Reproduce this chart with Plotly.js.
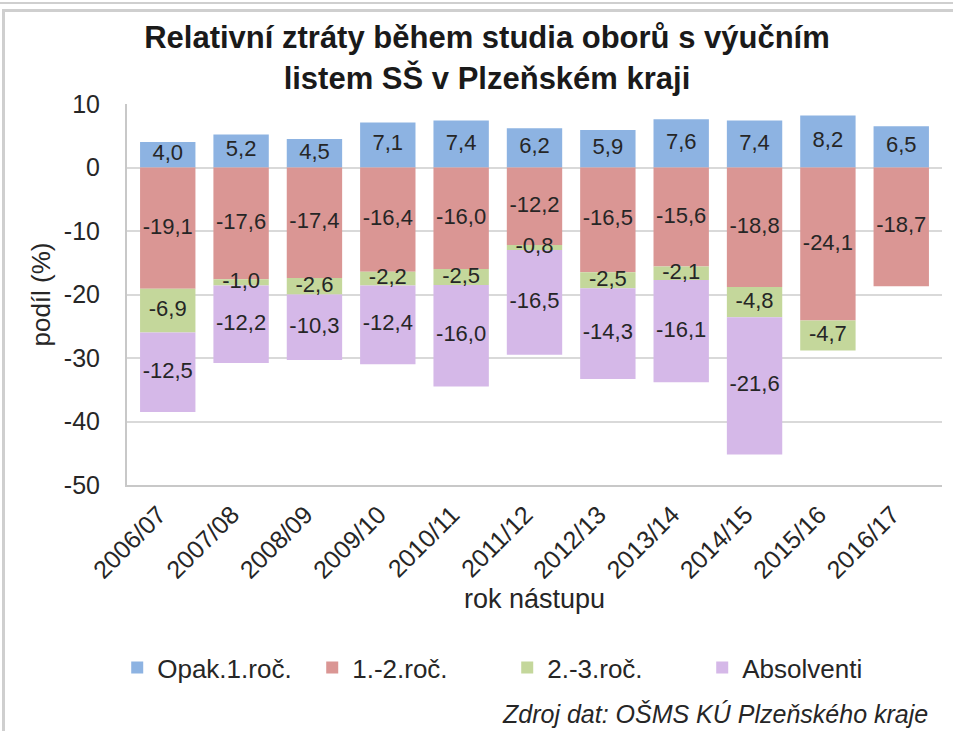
<!DOCTYPE html>
<html>
<head>
<meta charset="utf-8">
<script src="https://cdn.plot.ly/plotly-3.0.1.min.js"></script>
<style>
html,body{margin:0;padding:0;background:#fff;overflow:hidden;}
#chart{position:absolute;left:0;top:0;width:953px;height:731px;}
#frame{position:absolute;left:2px;top:9px;width:980px;height:760px;border:3px solid #cfcfcf;pointer-events:none;}
#topline{position:absolute;left:0;top:0;width:953px;height:2px;border-bottom:2px solid #cfcfcf;pointer-events:none;}
</style>
</head>
<body>
<div id="chart"></div>
<div id="frame"></div>
<div id="topline"></div>
<script>
const years = ["2006/07","2007/08","2008/09","2009/10","2010/11","2011/12","2012/13","2013/14","2014/15","2015/16","2016/17"];
const opak1 = [4.0, 5.2, 4.5, 7.1, 7.4, 6.2, 5.9, 7.6, 7.4, 8.2, 6.5];
const roc12 = [-19.1, -17.6, -17.4, -16.4, -16.0, -12.2, -16.5, -15.6, -18.8, -24.1, -18.7];
const roc23 = [-6.9, -1.0, -2.6, -2.2, -2.5, -0.8, -2.5, -2.1, -4.8, -4.7, null];
const absolventi = [-12.5, -12.2, -10.3, -12.4, -16.0, -16.5, -14.3, -16.1, -21.6, null, null];
const seriesNames = ["Opak.1.roč.", "1.-2.roč.", "2.-3.roč.", "Absolventi"];
const seriesColors = ["#8db3e2", "#da9694", "#c4d79b", "#d5b8e8"];
const yTickVals = [10, 0, -10, -20, -30, -40, -50];
const yTickText = ["10", "0", "-10", "-20", "-30", "-40", "-50"];

function fmt(v){ return v.toFixed(1).replace(".", ","); }

const allSeries = [opak1, roc12, roc23, absolventi];
const traces = allSeries.map((vals, i) => ({
  type: "bar",
  name: seriesNames[i],
  x: years,
  y: vals,
  marker: {color: seriesColors[i], line: {width: 0}},
  hoverinfo: "x+y+name"
}));

// data labels placed at the middle of each stacked segment (computed from the data)
const lblX = [], lblY = [], lblT = [];
years.forEach((yr, j) => {
  let posBase = 0, negBase = 0;
  allSeries.forEach(vals => {
    const v = vals[j];
    if (v === null || v === undefined) return;
    if (v >= 0) { lblX.push(yr); lblY.push(posBase + v / 2); posBase += v; }
    else { lblX.push(yr); lblY.push(negBase + v / 2); negBase += v; }
    lblT.push(fmt(v));
  });
});
traces.push({
  type: "scatter",
  mode: "text",
  x: lblX, y: lblY, text: lblT,
  textposition: "middle center",
  textfont: {family: "Liberation Sans, Arial, sans-serif", size: 22, color: "#262626"},
  showlegend: false,
  hoverinfo: "skip",
  cliponaxis: false
});

const layout = {
  width: 953, height: 731,
  paper_bgcolor: "rgba(0,0,0,0)",
  plot_bgcolor: "rgba(0,0,0,0)",
  barmode: "relative",
  bargap: 0.245,
  separators: ",.",
  margin: {l: 127, r: 11, t: 104, b: 246},
  font: {family: "Liberation Sans, Arial, sans-serif", color: "#262626"},
  title: {
    text: "<b>Relativní ztráty během studia oborů s výučním<br>listem SŠ v Plzeňském kraji</b>",
    font: {size: 31, color: "#1a1a1a"},
    x: 0.511, xanchor: "center",
    y: 0.934, yanchor: "top"
  },
  xaxis: {
    type: "category",
    tickangle: -45,
    tickfont: {size: 25, color: "#262626"},
    ticklabelshift: -9,
    ticklabelstandoff: 3,
    showgrid: false,
    showline: true,
    linecolor: "#c8c8c8",
    linewidth: 2,
    ticks: "",
    title: {text: "rok nástupu", font: {size: 27, color: "#262626"}, standoff: 4}
  },
  yaxis: {
    range: [-50, 10],
    tickvals: yTickVals,
    ticktext: yTickText,
    tickfont: {size: 25, color: "#262626"},
    ticklabelstandoff: 20,
    showgrid: true,
    gridcolor: "#d9d9d9",
    gridwidth: 2,
    zeroline: true,
    zerolinecolor: "#d9d9d9",
    zerolinewidth: 2,
    showline: true,
    linecolor: "#c8c8c8",
    linewidth: 2,
    ticks: "",
    title: {text: "podíl (%)", font: {size: 26, color: "#262626"}, standoff: 6}
  },
  legend: {
    orientation: "h",
    x: -0.012, xanchor: "left",
    y: -0.479, yanchor: "middle",
    font: {size: 26, color: "#262626"},
    traceorder: "normal",
    entrywidth: 150,
    entrywidthmode: "pixels",
    itemwidth: 30
  },
  annotations: [{
    text: "<i>Zdroj dat: OŠMS KÚ Plzeňského kraje</i>",
    xref: "paper", yref: "paper",
    x: 0.985, xanchor: "right",
    y: -0.601, yanchor: "middle",
    showarrow: false,
    font: {size: 25, color: "#262626"}
  }],
  showlegend: true
};

Plotly.newPlot("chart", traces, layout, {displayModeBar: false, staticPlot: true});
</script>
</body>
</html>
